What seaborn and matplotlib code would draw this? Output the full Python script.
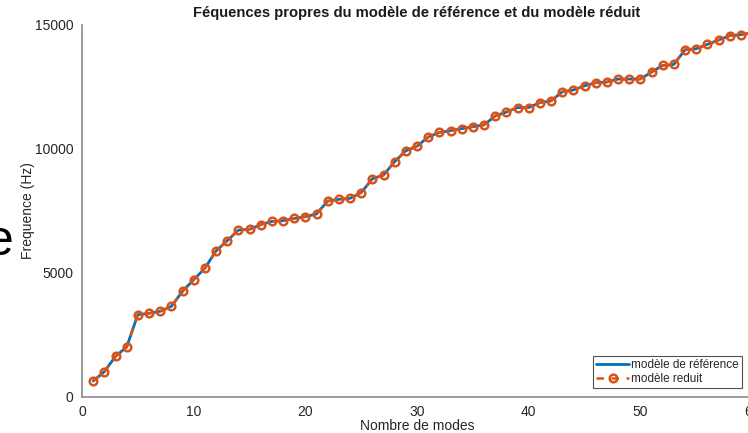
import numpy as np
import pandas as pd
import matplotlib
matplotlib.use("Agg")
import matplotlib.pyplot as plt
import seaborn as sns

modes = list(range(1, 61))
freq_ref = [645, 1020, 1640, 2016, 3320, 3375, 3455, 3655, 4260, 4730,
            5190, 5890, 6300, 6730, 6760, 6950, 7080, 7110, 7200, 7270,
            7380, 7900, 7970, 8010, 8240, 8800, 8950, 9490, 9930, 10110,
            10480, 10670, 10740, 10820, 10900, 10970, 11330, 11490, 11670, 11670,
            11870, 11940, 12300, 12380, 12550, 12670, 12700, 12820, 12820, 12820,
            13100, 13370, 13410, 14000, 14040, 14220, 14390, 14570, 14610, 14680]
freq_red = list(freq_ref)

labels = ["modèle de référence", "modèle reduit"]
title = "Féquences propres du modèle de référence et du modèle réduit"
xlabel = "Nombre de modes"
ylabel = "Frequence (Hz)"
xticks = [0, 10, 20, 30, 40, 50, 60]
yticks = [0, 5000, 10000, 15000]

sns.set_style("white")
plt.rcParams['font.family'] = ['Liberation Sans', 'DejaVu Sans']

df_ref = pd.DataFrame({"mode": modes, "freq": freq_ref})
df_red = pd.DataFrame({"mode": modes, "freq": freq_red})

fig = plt.figure(figsize=(7.48, 4.33), dpi=100)
ax = fig.add_axes([82/748, 36/433, (752-82)/748, (397-25)/433])

blue = "#0072BD"
orange = "#D95319"

sns.lineplot(data=df_ref, x="mode", y="freq", ax=ax, color=blue, lw=2.0,
             label=labels[0])
sns.lineplot(data=df_red, x="mode", y="freq", ax=ax, color=orange, lw=1.8,
             linestyle=(0, (3, 3)), marker="o", markersize=5.5,
             markerfacecolor="none", markeredgecolor=orange, markeredgewidth=1.8,
             label=labels[1])

ax.set_xlim(0, 60)
ax.set_ylim(0, 15000)
ax.set_xticks(xticks)
ax.set_yticks(yticks)
ax.set_xticklabels([str(t) for t in xticks])
ax.set_yticklabels([str(t) for t in yticks])
ax.tick_params(direction="in", length=4, width=0.8, colors="#7f7f7f",
               labelcolor="#262626", labelsize=10, pad=6)
for s in ["top", "right"]:
    ax.spines[s].set_visible(False)
for s in ["left", "bottom"]:
    ax.spines[s].set_color("#8c8c8c")
    ax.spines[s].set_linewidth(1.2)

ax.set_xlabel(xlabel, fontsize=10, color="#262626")
ax.xaxis.set_label_coords(0.5, -(426 - 397) / 372, transform=ax.transAxes)
ax.xaxis.label.set_va("center")
ax.set_ylabel(ylabel, fontsize=10, color="#262626")
ax.yaxis.set_label_coords((28 - 82) / 670, 0.5)
ax.yaxis.label.set_va("center")
ax.set_title(title, fontsize=10.6, fontweight="bold", color="#1a1a1a", pad=6)

leg = ax.legend(loc="lower right", bbox_to_anchor=(742/748, (433 - 388)/433),
                bbox_transform=fig.transFigure, fontsize=8.5, frameon=True,
                fancybox=False, borderpad=0.25, labelspacing=0.15,
                handlelength=2.8, handletextpad=0.2, borderaxespad=0)
leg.get_frame().set_edgecolor("#262626")
leg.get_frame().set_linewidth(0.8)

fig.text(0 / 748, (433 - 255) / 433, "e", fontsize=36, color="black",
         ha="center", va="baseline")

fig.savefig("out.png", dpi=100)
